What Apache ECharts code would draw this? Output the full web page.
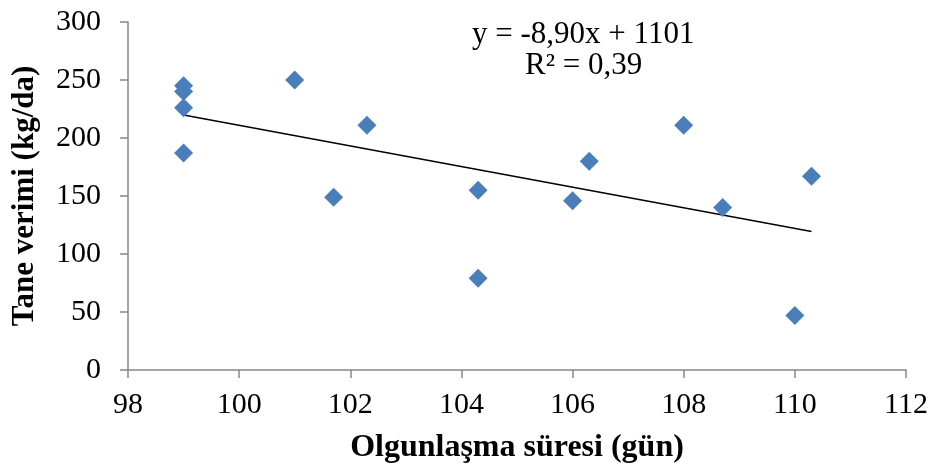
<!DOCTYPE html>
<html>
<head>
<meta charset="utf-8">
<script src="https://cdn.jsdelivr.net/npm/echarts@6/dist/echarts.min.js"></script>
<style>html,body{margin:0;padding:0;background:#fff;}#c{width:941px;height:469px;}</style>
</head>
<body>
<div id="c"></div>
<script>
const xValues = [99, 99, 99, 99, 101, 101.7, 102.3, 104.3, 104.3, 106, 106.3, 108, 108.7, 110, 110.3];
const yValues = [245, 240, 226, 187, 250, 149, 211, 155, 79, 146, 180, 211, 140, 47, 167];
const slope = -8.90;
const intercept = 1101;
const xTicks = [98, 100, 102, 104, 106, 108, 110, 112];
const yTicks = [0, 50, 100, 150, 200, 250, 300];
const eqText = 'y = -8,90x + 1101';
const r2Text = 'R² = 0,39';

const pts = xValues.map((x, i) => [x, yValues[i]]);
const xMinD = Math.min(...xValues), xMaxD = Math.max(...xValues);
const trend = [[xMinD, slope * xMinD + intercept], [xMaxD, slope * xMaxD + intercept]];

const chart = echarts.init(document.getElementById('c'));
const font = "'Liberation Serif', 'Times New Roman', serif";
chart.setOption({
  animation: false,
  grid: {left: 128, right: 35, top: 22, bottom: 99},
  xAxis: {
    type: 'value', min: xTicks[0], max: xTicks[xTicks.length - 1], interval: 2,
    name: 'Olgunlaşma süresi (gün)', nameLocation: 'middle', nameGap: 62,
    nameTextStyle: {fontFamily: font, fontSize: 32, fontWeight: 'bold', color: '#000'},
    axisLine: {lineStyle: {color: '#868686', width: 1.5}},
    axisTick: {show: true, length: 8, lineStyle: {color: '#868686', width: 1.5}},
    axisLabel: {fontFamily: font, fontSize: 30, color: '#000', margin: 20},
    splitLine: {show: false}
  },
  yAxis: {
    type: 'value', min: yTicks[0], max: yTicks[yTicks.length - 1], interval: 50,
    name: 'Tane verimi (kg/da)', nameLocation: 'middle', nameGap: 88,
    nameTextStyle: {fontFamily: font, fontSize: 31, fontWeight: 'bold', color: '#000'},
    axisLine: {show: true, lineStyle: {color: '#868686', width: 1.5}},
    axisTick: {show: true, length: 8, lineStyle: {color: '#868686', width: 1.5}},
    axisLabel: {fontFamily: font, fontSize: 30, color: '#000', margin: 27},
    splitLine: {show: false}
  },
  graphic: [
    {type: 'text', left: 472, top: 19, style: {text: eqText, font: "31px " + font, fill: '#000'}},
    {type: 'text', left: 525, top: 50, style: {text: r2Text, font: "31px " + font, fill: '#000'}}
  ],
  series: [
    {type: 'line', data: trend, symbol: 'none', lineStyle: {color: '#000', width: 1.5}, z: 1},
    {type: 'scatter', data: pts, symbol: 'diamond', symbolSize: [19, 19], itemStyle: {color: '#4a7ebb', opacity: 1}, z: 2}
  ]
});
</script>
</body>
</html>
